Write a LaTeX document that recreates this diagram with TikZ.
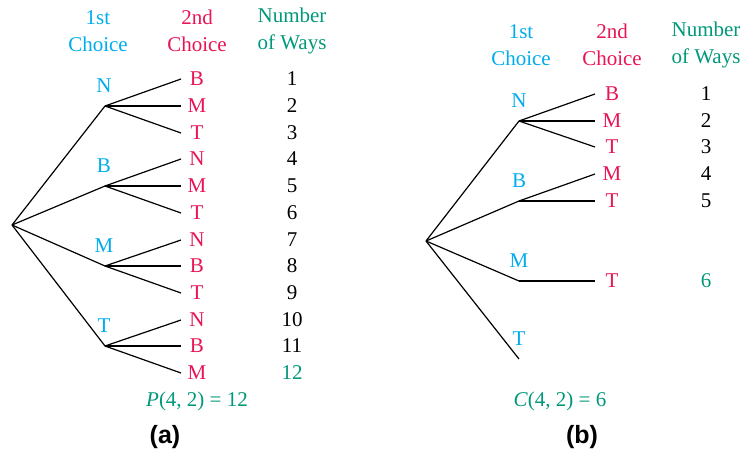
\documentclass[tikz,border=0pt]{standalone}
\usepackage{fontspec}
\setmainfont{Liberation Serif}
\newfontfamily\panelfont{Liberation Sans}
\definecolor{firstblue}{RGB}{0,172,236}
\definecolor{secondred}{RGB}{232,20,84}
\definecolor{waysgreen}{RGB}{0,152,122}
\tikzset{
  branch/.style={draw=black, line width=0.6pt},
  txt/.style={inner sep=0pt, font=\fontsize{10.5}{13.5}\selectfont},
  firstc/.style={txt, text=firstblue},
  secondc/.style={txt, text=secondred},
  waysc/.style={txt, text=black},
  head/.style={txt, align=center},
  panel/.style={inner sep=0pt, font=\panelfont\bfseries\fontsize{12.5}{15}\selectfont}
}
\begin{document}
\begin{tikzpicture}[x=0.5pt, y=-0.5pt]
    \useasboundingbox (0,0) rectangle (745,456);
    %   (a) every ordered pair of two choices
    \node[head, text=firstblue]  (a-h1) at (98,31)  {1st\\Choice};
    \node[head, text=secondred]  (a-h2) at (197,31) {2nd\\Choice};
    \node[head, text=waysgreen]  (a-h3) at (292,31) {Number\\of Ways};
    \coordinate (a-root) at (12,225);
    %   first choice: branch points and their letters
    \foreach \name/\y in {N/106, B/186, M/266, T/346} {
        \coordinate (a-\name) at (105,\y);
        \node[firstc] (a-\name-lab) at (104,\y-20) {\name};
        \draw[branch] (a-root) -- (a-\name);
    }
    %   second choice: leaf, letter and count
    \foreach \i/\from/\lab/\y/\col in {1/N/B/79/black, 2/N/M/106/black, 3/N/T/133/black,
                                       4/B/N/159/black, 5/B/M/186/black, 6/B/T/213/black,
                                       7/M/N/240/black, 8/M/B/266/black, 9/M/T/293/black,
                                       10/T/N/320/black, 11/T/B/346/black, 12/T/M/373/waysgreen} {
        \coordinate (a-leaf\i) at (181,\y);
        \draw[branch] (a-\from) -- (a-leaf\i);
        \node[secondc] (a-lab\i) at (197,\y) {\lab};
        \node[waysc, text=\col] (a-num\i) at (292,\y) {\i};
    }
    \node[txt, text=waysgreen] (a-result) at (197,401) {\textit{P}(4, 2) = 12};
    \node[panel] (a-cap) at (165,437) {(a)};

    %   (b) unordered pairs only
    \node[head, text=firstblue]  (b-h1) at (521,45)  {1st\\Choice};
    \node[head, text=secondred]  (b-h2) at (612,45) {2nd\\Choice};
    \node[head, text=waysgreen]  (b-h3) at (706,45) {Number\\of Ways};
    \coordinate (b-root) at (426,241);
    \foreach \name/\y in {N/121, B/201, M/281, T/359} {
        \coordinate (b-\name) at (519,\y);
        \node[firstc] (b-\name-lab) at (519,\y-20) {\name};
        \draw[branch] (b-root) -- (b-\name);
    }
    \foreach \i/\from/\lab/\y/\col in {1/N/B/94/black, 2/N/M/121/black, 3/N/T/147/black,
                                       4/B/M/174/black, 5/B/T/201/black, 6/M/T/281/waysgreen} {
        \coordinate (b-leaf\i) at (595,\y);
        \draw[branch] (b-\from) -- (b-leaf\i);
        \node[secondc] (b-lab\i) at (612,\y) {\lab};
        \node[waysc, text=\col] (b-num\i) at (706,\y) {\i};
    }
    \node[txt, text=waysgreen] (b-result) at (560,401) {\textit{C}(4, 2) = 6};
    \node[panel] (b-cap) at (582,437) {(b)};
\end{tikzpicture}
\end{document}
